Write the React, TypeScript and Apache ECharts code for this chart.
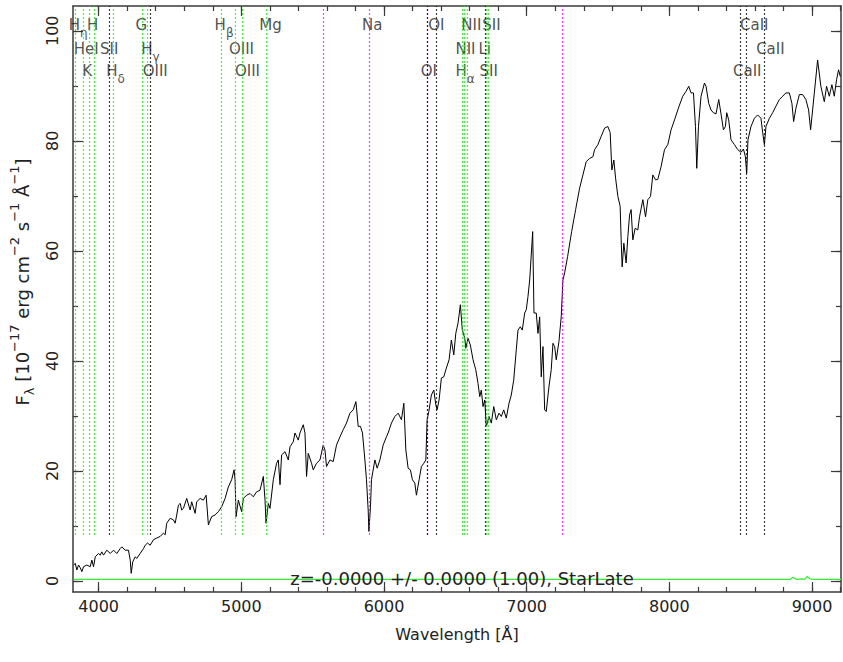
import React, { useEffect, useRef } from "react";
import * as echarts from "echarts";

// Spectrum (wavelength in Å, flux in 1e-17 erg/cm2/s/Å)
const wavelength = [
  3824, 3836, 3847, 3859, 3871, 3882, 3894, 3917, 3941, 3952, 3964, 3976, 3999, 4011, 4022, 4034, 4057, 4081,
  4104, 4127, 4151, 4162, 4186, 4209, 4221, 4228, 4239, 4256, 4267, 4291, 4314, 4326, 4342, 4361, 4384, 4407,
  4431, 4454, 4466, 4477, 4501, 4524, 4536, 4547, 4559, 4571, 4582, 4594, 4617, 4641, 4652, 4676, 4687, 4711,
  4734, 4753, 4769, 4792, 4816, 4839, 4862, 4886, 4909, 4932, 4949, 4956, 4963, 4979, 5002, 5014, 5037, 5061,
  5084, 5107, 5131, 5154, 5166, 5173, 5189, 5201, 5224, 5247, 5259, 5271, 5282, 5306, 5329, 5341, 5364, 5376,
  5399, 5411, 5434, 5446, 5457, 5469, 5492, 5504, 5527, 5551, 5574, 5586, 5597, 5621, 5644, 5667, 5691, 5714,
  5737, 5761, 5784, 5803, 5819, 5835, 5849, 5866, 5877, 5889, 5894, 5905, 5912, 5936, 5952, 5971, 5994, 6017,
  6029, 6052, 6076, 6099, 6122, 6139, 6153, 6169, 6185, 6199, 6216, 6227, 6246, 6262, 6279, 6293, 6302, 6314,
  6332, 6349, 6363, 6372, 6386, 6402, 6419, 6437, 6456, 6472, 6489, 6503, 6519, 6535, 6549, 6566, 6573, 6589,
  6605, 6624, 6643, 6659, 6671, 6682, 6694, 6706, 6717, 6736, 6752, 6769, 6787, 6806, 6822, 6839, 6857, 6876,
  6892, 6909, 6927, 6939, 6955, 6969, 6986, 6997, 7009, 7021, 7042, 7051, 7067, 7079, 7091, 7102, 7114, 7126,
  7137, 7156, 7172, 7184, 7196, 7207, 7226, 7242, 7254, 7266, 7287, 7315, 7343, 7371, 7394, 7417, 7441, 7464,
  7476, 7499, 7522, 7546, 7569, 7585, 7597, 7611, 7623, 7639, 7655, 7662, 7669, 7681, 7697, 7709, 7721, 7732,
  7744, 7760, 7779, 7791, 7814, 7833, 7849, 7868, 7884, 7903, 7919, 7942, 7966, 7989, 8012, 8036, 8059, 8071,
  8094, 8117, 8136, 8152, 8169, 8183, 8192, 8204, 8222, 8246, 8257, 8276, 8292, 8309, 8327, 8346, 8362, 8379,
  8393, 8402, 8416, 8432, 8456, 8479, 8502, 8519, 8533, 8542, 8551, 8572, 8596, 8619, 8642, 8654, 8666, 8677,
  8701, 8724, 8747, 8771, 8794, 8817, 8841, 8859, 8871, 8887, 8911, 8934, 8957, 8976, 8990, 9004, 9023, 9039,
  9062, 9086, 9102, 9121, 9139, 9156, 9172, 9186, 9198,
];
const flux = [
  2.9, 3.2, 2.0, 2.9, 2.4, 1.7, 2.6, 2.9, 2.6, 3.8, 2.6, 4.4, 5.0, 4.7, 5.3, 4.7, 5.6, 5.0,
  5.6, 5.0, 5.9, 6.2, 5.6, 5.6, 3.8, 1.4, 3.5, 4.4, 4.1, 5.0, 5.9, 6.5, 6.9, 6.5, 7.5, 7.8,
  8.1, 8.7, 8.4, 10.5, 11.4, 11.1, 10.5, 12.0, 13.8, 14.1, 12.9, 13.2, 15.0, 12.9, 14.4, 12.3, 14.4, 15.0,
  14.7, 15.6, 10.2, 11.7, 12.0, 12.6, 13.5, 15.0, 17.1, 18.4, 20.2, 18.4, 11.7, 14.7, 12.6, 15.0, 15.6, 15.9,
  15.3, 16.2, 16.5, 19.0, 14.7, 10.5, 14.1, 13.2, 18.4, 21.4, 22.0, 17.5, 22.9, 23.5, 22.0, 24.4, 25.3, 26.9,
  25.6, 26.9, 28.4, 26.9, 19.0, 23.2, 21.4, 20.2, 21.4, 22.0, 24.7, 23.8, 20.8, 22.0, 21.7, 24.7, 26.2, 27.5,
  28.7, 30.5, 31.1, 32.6, 28.1, 28.1, 26.9, 22.0, 18.4, 12.9, 9.0, 13.5, 18.4, 22.0, 20.5, 22.0, 24.7, 26.2,
  26.9, 28.7, 29.9, 30.5, 29.3, 32.3, 23.8, 20.5, 20.2, 18.4, 17.8, 15.6, 18.4, 20.8, 21.4, 22.0, 29.3, 30.8,
  33.8, 34.7, 32.0, 31.1, 32.9, 36.9, 37.1, 38.7, 40.2, 43.8, 41.1, 45.0, 46.9, 50.2, 45.6, 44.1, 42.3, 44.1,
  42.9, 40.2, 38.4, 35.9, 33.5, 34.7, 31.7, 32.9, 28.1, 29.9, 28.7, 31.7, 29.3, 30.5, 29.9, 31.1, 29.6, 32.3,
  33.8, 36.5, 42.0, 45.6, 46.2, 45.6, 48.7, 49.3, 51.7, 54.7, 63.5, 48.7, 48.7, 45.0, 48.0, 37.1, 42.6, 31.1,
  30.8, 35.3, 38.4, 43.2, 42.6, 40.2, 43.5, 48.0, 54.7, 56.0, 59.0, 63.5, 67.5, 71.4, 73.8, 76.2, 76.8, 77.1,
  78.4, 79.3, 80.8, 82.3, 82.6, 81.5, 74.7, 76.5, 73.2, 69.9, 68.1, 62.0, 57.1, 61.4, 57.8, 62.6, 66.5, 67.5,
  62.0, 64.1, 63.8, 66.2, 69.3, 66.2, 69.3, 69.9, 73.8, 72.9, 73.0, 75.3, 78.4, 79.3, 82.0, 83.8, 85.6, 86.5,
  88.1, 89.0, 89.9, 88.7, 88.7, 82.6, 75.0, 82.6, 88.1, 90.5, 89.9, 86.8, 85.6, 85.1, 84.9, 87.5, 84.9, 82.0,
  82.6, 85.1, 83.8, 80.2, 79.3, 78.4, 77.9, 78.5, 77.1, 74.1, 80.2, 82.6, 84.1, 84.7, 84.1, 81.5, 79.3, 82.6,
  84.1, 85.1, 86.3, 87.5, 88.1, 88.7, 88.7, 86.8, 83.5, 85.9, 88.4, 88.4, 87.5, 85.6, 82.0, 85.6, 90.5, 94.7,
  89.9, 87.1, 89.9, 88.1, 90.2, 88.1, 91.1, 92.9, 91.7,
];

// Error spectrum near zero (green)
const errorWave = [3824, 4500, 5200, 6000, 6800, 7600, 8400, 8850, 8865, 8880, 8900, 8930, 8950, 8965, 8985, 9010, 9203];
const errorFlux = [0.3, 0.3, 0.3, 0.3, 0.3, 0.3, 0.3, 0.3, 0.7, 0.4, 0.3, 0.4, 0.3, 0.8, 0.4, 0.3, 0.3];

// Spectral feature lines
const featureWave = [3835, 3889, 3934, 3969, 4072, 4102, 4304, 4340, 4363, 4861, 4959, 5007, 5175, 5577, 5893, 6300, 6300, 6364, 6548, 6563, 6583, 6708, 6716, 6731, 7246, 8498, 8542, 8662];
const featureColor = ["g", "g", "g", "g", "k", "g", "g", "g", "k", "g", "g", "g", "g", "m", "m", "m", "k", "k", "g", "g", "g", "k", "g", "g", "m", "k", "k", "k"];

// Feature labels: text, centre wavelength, row (0 top, 2 bottom)
const labelText = [
  "{m|H}{s|η}", "{m|H}", "{m|G}", "{m|H}{s|β}", "{m|Mg}", "{m|Na}", "{m|OI}", "{m|NII}", "{m|SII}", "{m|CaII}",
  "{m|HeI}", "{m|SII}", "{m|H}{s|γ}", "{m|OIII}", "{m|NII}", "{m|Li}", "{m|CaII}",
  "{m|K}", "{m|H}{s|δ}", "{m|OIII}", "{m|OIII}", "{m|OI}", "{m|H}{s|α}", "{m|SII}", "{m|CaII}",
];
const labelWave = [
  3857, 3958, 4298, 4879, 5204, 5918, 6367, 6612, 6753, 8595,
  3912, 4074, 4362, 5001, 6571, 6706, 8708,
  3920, 4118, 4396, 5043, 6314, 6568, 6734, 8546,
];
const labelRow = [
  0, 0, 0, 0, 0, 0, 0, 0, 0, 0,
  1, 1, 1, 1, 1, 1, 1,
  2, 2, 2, 2, 2, 2, 2, 2,
];
const rowLevel = [101.1, 96.7, 92.6];

const xTicks = [4000, 5000, 6000, 7000, 8000, 9000];
const xMinorTicks = [4000, 4200, 4400, 4600, 4800, 5000, 5200, 5400, 5600, 5800, 6000, 6200, 6400, 6600, 6800, 7000, 7200, 7400, 7600, 7800, 8000, 8200, 8400, 8600, 8800, 9000, 9200];
const yTicks = [0, 20, 40, 60, 80, 100];
const yMinorTicks = [0, 10, 20, 30, 40, 50, 60, 70, 80, 90, 100];

const X_MIN = 3820;
const X_MAX = 9203;
const Y_MIN = -2;
const Y_MAX = 104.5;
const LINE_BOTTOM = 8.4;

const FONT = "DejaVu Sans";
const TXT = "#222";
const FRAME = "#3a3a3a";
const colorMap: Record<string, string> = { g: "#19e619", k: "#000000", m: "#ff00ff" };

export default function App() {
  const ref = useRef<HTMLDivElement>(null);

  useEffect(() => {
    if (!ref.current) return;
    const chart = echarts.init(ref.current, undefined, { renderer: "svg" });

    const axisLineStyle = { color: FRAME, width: 1.5 };
    const mkX = (position: string, major: boolean, withLabel: boolean, withLine: boolean, extra: any = {}) => ({
      type: "value",
      min: X_MIN,
      max: X_MAX,
      position,
      axisLine: { show: withLine, onZero: false, lineStyle: axisLineStyle },
      axisTick: {
        show: true,
        inside: true,
        length: major ? 10 : 5,
        customValues: major ? xTicks : xMinorTicks,
        lineStyle: { color: FRAME, width: 1.2 },
      },
      axisLabel: withLabel
        ? {
            show: true,
            customValues: xTicks,
            formatter: (v: number) => String(v),
            fontSize: 16,
            fontFamily: FONT,
            color: TXT,
            margin: 6,
          }
        : { show: false },
      splitLine: { show: false },
      ...extra,
    });
    const mkY = (position: string, major: boolean, withLabel: boolean, withLine: boolean, extra: any = {}) => ({
      type: "value",
      min: Y_MIN,
      max: Y_MAX,
      position,
      axisLine: { show: withLine, onZero: false, lineStyle: axisLineStyle },
      axisTick: {
        show: true,
        inside: true,
        length: major ? 10 : 5,
        customValues: major ? yTicks : yMinorTicks,
        lineStyle: { color: FRAME, width: 1.2 },
      },
      axisLabel: withLabel
        ? {
            show: true,
            customValues: yTicks,
            formatter: (v: number) => String(v),
            rotate: 90,
            fontSize: 16,
            fontFamily: FONT,
            color: TXT,
            margin: 13,
          }
        : { show: false },
      splitLine: { show: false },
      ...extra,
    });

    const specData = wavelength.map((w, i) => [w, flux[i]]);
    const errData = errorWave.map((w, i) => [w, errorFlux[i]]);

    const markData = featureWave.map((w, i) => [
      {
        coord: [w, LINE_BOTTOM],
        lineStyle: { color: colorMap[featureColor[i]], type: [1.5, 2.5], width: 1.2 },
      },
      { coord: [w, Y_MAX] },
    ]);

    const labelData = labelText.map((t, i) => ({
      value: [labelWave[i], rowLevel[labelRow[i]]],
    }));

    const option: any = {
      animation: false,
      backgroundColor: "#ffffff",
      grid: { left: 73, right: 2, top: 6, bottom: 70, containLabel: false },
      xAxis: [
        mkX("bottom", true, true, true, {
          name: "Wavelength [Å]",
          nameLocation: "middle",
          nameGap: 34,
          nameTextStyle: { fontSize: 16, fontFamily: FONT, color: TXT },
        }),
        mkX("bottom", false, false, false),
        mkX("top", true, false, true),
        mkX("top", false, false, false),
      ],
      yAxis: [
        mkY("left", true, true, true, {
          name: "{b|F}{sub|λ}{b| [10}{sup|−17}{b| erg cm}{sup|−2}{b| s}{sup|−1}{b| Å}{sup|−1}{b|]}",
          nameLocation: "middle",
          nameGap: 29,
          nameTextStyle: {
            fontSize: 18,
            fontFamily: FONT,
            color: TXT,
            padding: [0, 0, 0, 34],
            rich: {
              b: { fontSize: 18, fontFamily: FONT, color: TXT, lineHeight: 28 },
              sup: { fontSize: 13, fontFamily: FONT, color: TXT, lineHeight: 13, verticalAlign: "top" },
              sub: { fontSize: 13, fontFamily: FONT, color: TXT, lineHeight: 13, verticalAlign: "bottom" },
            },
          },
        }),
        mkY("left", false, false, false),
        mkY("right", true, false, true),
        mkY("right", false, false, false),
      ],
      series: [
        {
          type: "line",
          data: [],
          xAxisIndex: 0,
          yAxisIndex: 0,
          silent: true,
          z: 1,
          markLine: {
            silent: true,
            symbol: "none",
            label: { show: false },
            data: markData,
          },
        },
        {
          type: "line",
          data: errData,
          xAxisIndex: 0,
          yAxisIndex: 0,
          showSymbol: false,
          lineStyle: { color: "#33ee33", width: 1.2 },
          z: 2,
        },
        {
          type: "line",
          data: specData,
          xAxisIndex: 0,
          yAxisIndex: 0,
          showSymbol: false,
          lineStyle: { color: "#000000", width: 1 },
          z: 3,
        },
        {
          type: "scatter",
          data: labelData,
          xAxisIndex: 0,
          yAxisIndex: 0,
          symbolSize: 0,
          silent: true,
          z: 4,
          label: {
            show: true,
            position: "inside",
            formatter: (p: any) => labelText[p.dataIndex],
            rich: {
              m: { fontSize: 15, fontFamily: FONT, color: TXT, lineHeight: 28 },
              s: { fontSize: 12, fontFamily: FONT, color: TXT, lineHeight: 12, verticalAlign: "bottom" },
            },
          },
        },
      ],
      graphic: [
        {
          type: "text",
          x: 462,
          y: 578,
          z: 10,
          style: {
            text: "z=-0.0000 +/- 0.0000 (1.00), StarLate",
            align: "center",
            verticalAlign: "middle",
            fontSize: 18,
            fontFamily: FONT,
            fill: TXT,
          },
        },
      ],
    };

    chart.setOption(option);
    return () => chart.dispose();
  }, []);

  return (
    <div
      ref={ref}
      style={{ position: "absolute", left: 0, top: 0, width: 843, height: 662, background: "#fff" }}
    />
  );
}
